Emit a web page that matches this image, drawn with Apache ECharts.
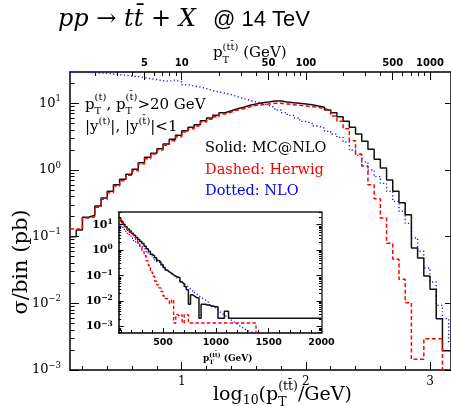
<!DOCTYPE html>
<html><head><meta charset="utf-8">
<script src="https://cdn.jsdelivr.net/npm/echarts@6/dist/echarts.min.js"></script>
<style>html,body{margin:0;padding:0;background:#fff}#c{width:451px;height:406px}</style>
</head><body><div id="c"></div>
<script>
// ---------- DATA ----------
// main histogram: bin edges in log10(pT(tt)/GeV), values are log10(sigma/bin in pb)
const mainEdges = [0.10,0.15,0.20,0.25,0.30,0.35,0.40,0.45,0.50,0.55,0.60,0.65,0.70,0.75,0.80,0.85,0.90,0.95,1.00,1.05,1.10,1.15,1.20,1.25,1.30,1.35,1.40,1.45,1.50,1.55,1.60,1.65,1.70,1.75,1.80,1.85,1.90,1.95,2.00,2.05,2.10,2.15,2.20,2.25,2.30,2.35,2.40,2.45,2.50,2.55,2.60,2.65,2.70,2.75,2.80,2.85,2.90,2.95,3.00,3.05,3.10,3.15,3.20];
const mcnloLog10 = [-1.00,-0.90,-0.71,-0.68,-0.54,-0.42,-0.32,-0.22,-0.14,-0.065,
 0.01,0.11,0.19,0.25,0.32,0.39,0.46,0.52,0.59,0.64,
 0.68,0.74,0.78,0.82,0.86,0.89,0.92,0.94,0.97,0.99,
 1.01,1.02,1.035,1.035,1.02,1.01,1.00,0.99,0.98,0.96,
 0.94,0.90,0.86,0.80,0.73,0.64,0.54,0.43,0.31,0.16,
 0.03,-0.15,-0.32,-0.49,-0.67,-1.17,-1.32,-1.59,-1.79,-2.23,
 -2.71,-2.71];
const herwigLog10 = [-0.885,-0.885,-0.72,-0.70,-0.56,-0.44,-0.34,-0.24,-0.16,-0.08,
 -0.01,0.09,0.17,0.24,0.30,0.37,0.44,0.50,0.57,0.62,
 0.66,0.72,0.76,0.80,0.84,0.87,0.90,0.92,0.95,0.97,
 0.98,0.99,1.00,1.00,0.99,0.98,0.97,0.96,0.95,0.94,
 0.92,0.90,0.81,0.73,0.62,0.44,0.24,0.06,-0.22,-0.43,
 -0.72,-1.10,-1.34,-1.64,-1.99,-2.84,-2.84,-2.53,-2.53,-2.53,
 -6,-6];
const nloLog10 = [1.47,1.47,1.465,1.46,1.455,1.45,1.44,1.43,1.42,1.41,
 1.40,1.385,1.37,1.355,1.34,1.33,1.35,1.32,1.28,1.26,
 1.245,1.22,1.19,1.17,1.15,1.13,1.10,1.07,1.045,1.02,
 1.00,0.97,0.94,0.90,0.86,0.82,0.78,0.73,0.70,0.66,
 0.63,0.58,0.54,0.49,0.42,0.30,0.22,0.12,0.00,-0.10,
 -0.20,-0.32,-0.47,-0.62,-0.80,-1.02,-1.22,-1.47,-1.68,-2.03,
 -2.23,-2.58];

// inset histogram: bin edges in pT(tt) GeV, values log10(sigma/bin in pb)
const insetEdges = [80,100,120,140,160,180,200,220,240,260,280,300,320,340,360,380,400,420,440,460,480,500,520,540,560,580,600,620,640,660,680,700,720,740,760,780,800,820,840,860,880,900,920,940,960,980,1000,1020,1040,1060,1080,1100,1120,1140,1160,1180,1200,1220,1240,1260,1280,1300,1320,1340,1360,1380,1400,2000];
const insetMcnlo = [1.25,1.14,1.02,0.92,0.83,0.75,0.67,0.59,0.50,0.42,
 0.34,0.26,0.16,0.06,-0.04,-0.16,-0.22,-0.30,-0.40,-0.47,
 -0.56,-0.68,-0.78,-0.85,-0.90,-0.97,-1.02,-1.05,-1.08,-1.25,
 -1.32,-1.42,-1.55,-2.12,-1.75,-1.80,-1.87,-1.87,-2.67,-2.12,
 -2.12,-2.15,-2.15,-2.20,-2.20,-2.22,-2.22,-2.67,-2.67,-2.67,
 -2.40,-2.40,-2.67,-2.67,-2.67,-2.67,-2.67,-2.67,-2.67,-2.67,
 -2.67,-2.67,-2.67,-2.67,-2.67,-2.67,-2.67];
const insetHerwig = [1.22,1.08,0.96,0.86,0.78,0.70,0.62,0.50,0.38,0.26,
 0.12,-0.05,-0.22,-0.42,-0.60,-0.86,-1.02,-1.22,-1.36,-1.48,
 -1.62,-1.80,-1.90,-1.95,-2.10,-1.95,-2.86,-2.53,-2.60,-2.53,
 -2.86,-2.53,-2.53,-2.86,-2.86,-2.86,-2.86,-2.86,-2.86,-2.86,
 -2.86,-2.86,-2.86,-2.86,-2.86,-2.86,-2.86,-2.86,-2.86,-2.86,
 -2.86,-2.86,-2.86,-2.86,-2.86,-2.86,-2.86,-2.86,-2.86,-2.86,
 -2.86,-2.86,-2.86,-2.86,-2.86,-6,-6];
const insetNlo = [1.02,0.92,0.82,0.74,0.65,0.55,0.47,0.38,0.30,0.24,
 0.15,0.08,0.02,-0.06,-0.14,-0.22,-0.30,-0.38,-0.46,-0.53,
 -0.62,-0.70,-0.78,-0.85,-0.92,-0.99,-1.05,-1.12,-1.19,-1.25,
 -1.31,-1.38,-1.45,-1.52,-1.58,-1.66,-1.72,-1.78,-1.85,-1.90,
 -1.95,-2.02,-2.07,-2.15,-2.22,-2.28,-2.35,-2.42,-2.48,-2.55,
 -2.60,-2.66,-2.72,-2.79,-2.84,-2.89,-2.95,-3.01,-3.06,-3.11,
 -3.15,-3.19,-3.22,-3.25,-3.30,-6,-6];

// tick labels
const bottomTickLabels = [1, 2, 3];
const topTickGeV = [5, 10, 50, 100, 500, 1000];
const yDecades = [-3, -2, -1, 0, 1];
const insetXTickLabels = [500, 1000, 1500, 2000];

// ---------- helpers ----------
function steps(edges, vals){ const p=[]; vals.forEach((v,i)=>{p.push([edges[i],v]);p.push([edges[i+1],v]);}); return p; }
function logMinor(lo, hi){ const o=[]; for(let n=Math.floor(lo)-1;n<=Math.ceil(hi);n++){for(let k=2;k<=9;k++){const v=n+Math.log10(k); if(v>lo&&v<hi) o.push(v);}} return o; }
const SERIF='DejaVu Serif', SANS='DejaVu Sans';
const mctx=document.createElement('canvas').getContext('2d');
function tw(t,font){mctx.font=font;return mctx.measureText(t).width;}
function fontOf(p,fam){return p.f||((p.it?'italic ':'')+(p.b?'bold ':'')+p.s+'px "'+(p.fam||fam)+'"');}
function compose(x,y,parts,fill,fam){
  const out=[];let cx=x;
  for(const p of parts){
    const g=p.stack||[p];let mw=0;
    for(const q of g){const font=fontOf(q,fam);
      out.push({type:'text',x:cx,y:y+(q.dy||0),silent:true,style:{text:q.t,font:font,fill:fill,textAlign:'left',textVerticalAlign:'middle'}});
      mw=Math.max(mw,tw(q.t,font));}
    cx+=mw;
  }
  return out;
}
function powLabel(v){const n=Math.round(v);const e=n<0?'\u2212'+(-n):String(n);return '{b|10}{e|'+e+'}';}

const tb='t\u0304';
const graphics=[].concat(
  compose(58,20,[{t:'pp \u2192 t'+tb+' + X',s:24,it:true}],'#000',SERIF),
  compose(213,20,[{t:'@ 14 TeV',s:22,fam:'Liberation Sans'}],'#000',SERIF),
  compose(213,53,[{t:'p',s:15},{stack:[{t:'(t'+tb+')',s:10,dy:-6},{t:'T',s:10,dy:7}]},{t:' (GeV)',s:15}],'#000',SERIF),
  compose(213,395,[{t:'log',s:19},{t:'10',s:12.5,dy:6},{t:'(p',s:19},{stack:[{t:'(t'+tb+')',s:12.5,dy:-8},{t:'T',s:12.5,dy:8}]},{t:'/GeV)',s:19}],'#000',SERIF),
  compose(85,105,[{t:'p',s:15},{stack:[{t:'(t)',s:10,dy:-8},{t:'T',s:10,dy:6}]},{t:', ',s:15},{t:'p',s:15},{stack:[{t:'('+tb+')',s:10,dy:-8},{t:'T',s:10,dy:6}]},{t:'>20 GeV',s:15}],'#000',SERIF),
  compose(85,127,[{t:'|y',s:15},{t:'(t)',s:10,dy:-6},{t:'|, |y',s:15},{t:'('+tb+')',s:10,dy:-6},{t:'|<1',s:15}],'#000',SERIF),
  compose(205,148,[{t:'Solid: MC@NLO',s:14.5}],'#000',SERIF),
  compose(205,170,[{t:'Dashed: Herwig',s:14.5}],'#ff0000',SERIF),
  compose(205,191,[{t:'Dotted: NLO',s:14.5}],'#0000ff',SERIF),
  compose(203,359,[{t:'p',s:9,b:true},{stack:[{t:'(t'+tb+')',s:6,b:true,dy:-4},{t:'T',s:6,b:true,dy:3}]},{t:' (GeV)',s:9,b:true}],'#000',SERIF),
  [{type:'text',x:22,y:262,rotation:Math.PI/2,silent:true,style:{text:'\u03c3/bin (pb)',font:'21px "DejaVu Serif"',fill:'#000',textAlign:'center',textVerticalAlign:'middle'}}]
);

const blackLine={show:true,onZero:false,lineStyle:{color:'#000',width:1.5}};
const noLine={show:false,onZero:false};
const tickStyle={color:'#000',width:1};
function axisX(o){return Object.assign({type:'value',splitLine:{show:false},axisLine:noLine,axisLabel:{show:false},axisTick:{show:false}},o);}

const mainX=[0.1,3.169], mainY=[-3,1.47], insX=[80,2000], insY=[-3.25,1.5];
const bottomMinor=[0.2,0.4,0.6,0.8,1.2,1.4,1.6,1.8,2.2,2.4,2.6,2.8,3.2].filter(v=>v<mainX[1]);
const topMajor=topTickGeV.map(Math.log10);
const topMinor=logMinor(mainX[0],mainX[1]).filter(v=>!topMajor.some(m=>Math.abs(m-v)<1e-6));
const insXMinor=[];for(let g=100;g<2000;g+=100){if(g%500)insXMinor.push(g);}

const mainRich={b:{fontFamily:SERIF,fontSize:13,color:'#000',lineHeight:18},e:{fontFamily:SERIF,fontSize:8.5,color:'#000',lineHeight:9,verticalAlign:'top'}};
const insRich={b:{fontFamily:SERIF,fontSize:11,fontWeight:'bold',color:'#000',lineHeight:14},e:{fontFamily:SERIF,fontSize:7.5,fontWeight:'bold',color:'#000',lineHeight:7,verticalAlign:'top'}};

const option={
  animation:false,
  grid:[
    {left:70,top:72,width:381,height:298,show:false},
    {left:118.7,top:212,width:202.8,height:121,show:true,backgroundColor:'#fff',borderWidth:0}
  ],
  xAxis:[
    axisX({gridIndex:0,position:'bottom',min:mainX[0],max:mainX[1],axisLine:blackLine,
      axisTick:{show:true,inside:true,length:8,customValues:bottomTickLabels,lineStyle:tickStyle},
      axisLabel:{show:true,customValues:bottomTickLabels,margin:6,fontFamily:SERIF,fontSize:12,color:'#000',formatter:v=>String(Math.round(v))}}),
    axisX({gridIndex:0,position:'bottom',min:mainX[0],max:mainX[1],
      axisTick:{show:true,inside:true,length:4,customValues:bottomMinor,lineStyle:tickStyle}}),
    axisX({gridIndex:0,position:'top',min:mainX[0],max:mainX[1],axisLine:blackLine,
      axisTick:{show:true,inside:true,length:8,customValues:topMajor,lineStyle:tickStyle},
      axisLabel:{show:true,customValues:topMajor,margin:4,fontFamily:SANS,fontWeight:'bold',fontSize:10,color:'#000',formatter:v=>String(Math.round(Math.pow(10,v)))}}),
    axisX({gridIndex:0,position:'top',min:mainX[0],max:mainX[1],
      axisTick:{show:true,inside:true,length:4,customValues:topMinor,lineStyle:tickStyle}}),
    axisX({gridIndex:1,position:'bottom',min:insX[0],max:insX[1],axisLine:blackLine,
      axisTick:{show:true,inside:true,length:5,customValues:insetXTickLabels,lineStyle:tickStyle},
      axisLabel:{show:true,customValues:insetXTickLabels,margin:5,fontFamily:SANS,fontWeight:'bold',fontSize:9.5,color:'#000',formatter:v=>String(Math.round(v))}}),
    axisX({gridIndex:1,position:'bottom',min:insX[0],max:insX[1],
      axisTick:{show:true,inside:true,length:3,customValues:insXMinor,lineStyle:tickStyle}}),
    axisX({gridIndex:1,position:'top',min:insX[0],max:insX[1],axisLine:{show:true,onZero:false,lineStyle:{color:'#555',width:2}}})
  ],
  yAxis:[
    axisX({gridIndex:0,position:'left',min:mainY[0],max:mainY[1],axisLine:blackLine,
      axisTick:{show:true,inside:true,length:9,customValues:yDecades,lineStyle:tickStyle},
      axisLabel:{show:true,customValues:yDecades,margin:9,formatter:powLabel,rich:mainRich}}),
    axisX({gridIndex:0,position:'left',min:mainY[0],max:mainY[1],
      axisTick:{show:true,inside:true,length:4.5,customValues:logMinor(mainY[0],mainY[1]),lineStyle:tickStyle}}),
    axisX({gridIndex:0,position:'right',min:mainY[0],max:mainY[1],axisLine:blackLine,
      axisTick:{show:true,inside:true,length:6,customValues:yDecades,lineStyle:tickStyle}}),
    axisX({gridIndex:1,position:'left',min:insY[0],max:insY[1],axisLine:blackLine,
      axisTick:{show:true,inside:true,length:5,customValues:yDecades,lineStyle:tickStyle},
      axisLabel:{show:true,customValues:yDecades,margin:6,formatter:powLabel,rich:insRich}}),
    axisX({gridIndex:1,position:'left',min:insY[0],max:insY[1],
      axisTick:{show:true,inside:true,length:2.5,customValues:logMinor(insY[0],insY[1]),lineStyle:tickStyle}}),
    axisX({gridIndex:1,position:'right',min:insY[0],max:insY[1],axisLine:{show:true,onZero:false,lineStyle:{color:'#333',width:1.5}},
      axisTick:{show:true,inside:true,length:5,customValues:yDecades,lineStyle:tickStyle}}),
    axisX({gridIndex:1,position:'right',min:insY[0],max:insY[1],
      axisTick:{show:true,inside:true,length:2.5,customValues:logMinor(insY[0],insY[1]),lineStyle:tickStyle}})
  ],
  series:[
    {type:'line',xAxisIndex:0,yAxisIndex:0,data:steps(mainEdges,nloLog10),symbol:'none',silent:true,z:2,lineStyle:{color:'#1010ff',width:1.4,type:[1.2,2.4]}},
    {type:'line',xAxisIndex:0,yAxisIndex:0,data:steps(mainEdges,mcnloLog10),symbol:'none',silent:true,z:3,lineStyle:{color:'#111',width:1.5}},
    {type:'line',xAxisIndex:0,yAxisIndex:0,data:steps(mainEdges,herwigLog10),symbol:'none',silent:true,z:4,lineStyle:{color:'#ff0000',width:1.5,type:[4,2.5]}},
    {type:'line',xAxisIndex:4,yAxisIndex:3,data:steps(insetEdges,insetNlo),symbol:'none',silent:true,z:5,lineStyle:{color:'#1010ff',width:1.3,type:[1.2,2.2]}},
    {type:'line',xAxisIndex:4,yAxisIndex:3,data:steps(insetEdges,insetMcnlo),symbol:'none',silent:true,z:6,lineStyle:{color:'#111',width:1.5}},
    {type:'line',xAxisIndex:4,yAxisIndex:3,data:steps(insetEdges,insetHerwig),symbol:'none',silent:true,z:7,lineStyle:{color:'#ff0000',width:1.4,type:[3.5,2.2]}}
  ],
  graphic:graphics
};
const chart=echarts.init(document.getElementById('c'),null,{renderer:'canvas'});
chart.setOption(option);
</script></body></html>
